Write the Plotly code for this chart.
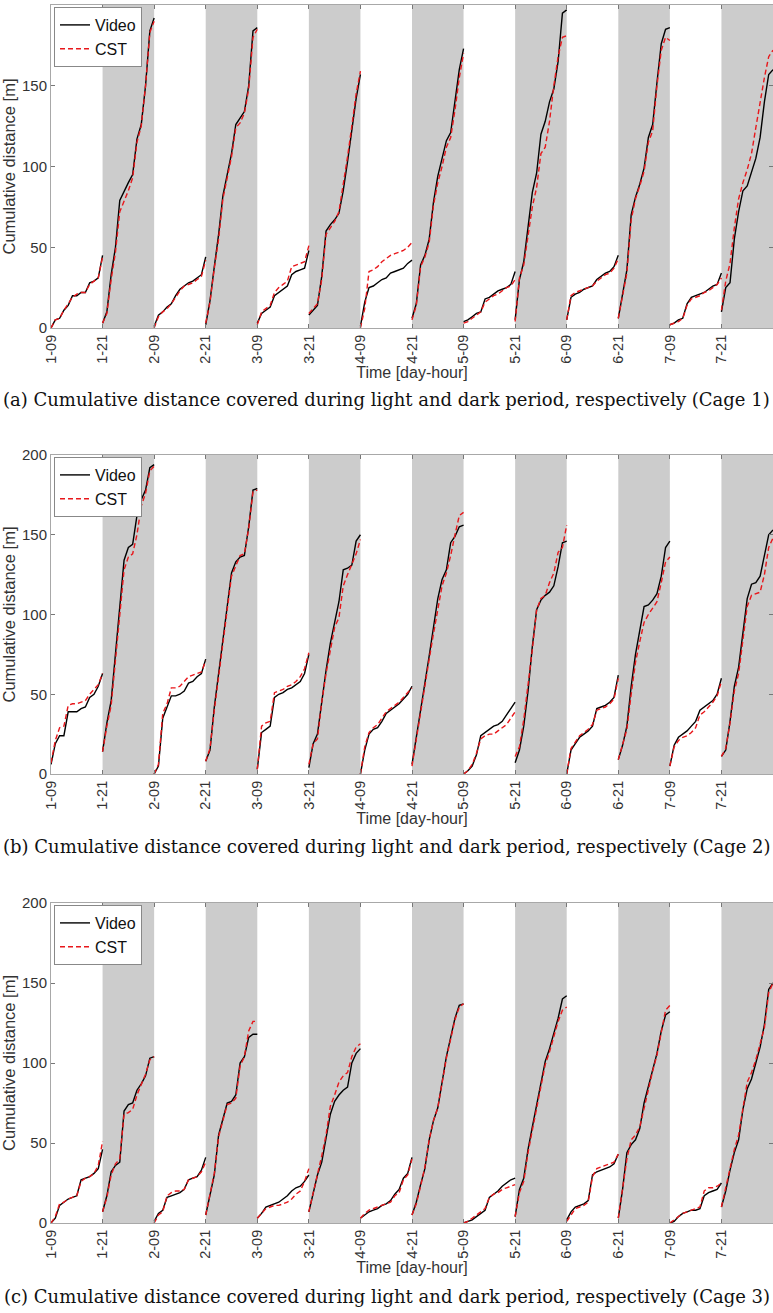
import numpy as np
import plotly.graph_objects as go

W, H = 773, 1313

# x ticks: one every 12 h, light (09-21) and dark (21-09) periods alternate
tick_text = ["1-09", "1-21", "2-09", "2-21", "3-09", "3-21", "4-09",
             "4-21", "5-09", "5-21", "6-09", "6-21", "7-09", "7-21"]
period_hours = 12
y_ticks = [0, 50, 100, 150, 200]

# cumulative distance [m], hourly within each 12 h period (14 periods)
video_c1 = [
    [0, 5, 6, 11, 14, 20, 20, 22, 22, 28, 29, 31, 45],
    [3, 10, 33, 50, 79, 85, 90, 95, 117, 126, 150, 184, 192],
    [1, 8, 10, 13, 15, 20, 24, 26, 28, 29, 31, 33, 44],
    [2, 17, 38, 58, 82, 96, 108, 126, 130, 134, 150, 184, 186],
    [3, 9, 11, 13, 20, 22, 24, 26, 33, 35, 36, 37, 48],
    [8, 11, 14, 32, 60, 64, 67, 71, 85, 103, 122, 142, 157],
    [1, 16, 25, 26, 28, 30, 31, 34, 35, 36, 37, 40, 42],
    [6, 15, 39, 45, 55, 78, 94, 106, 116, 121, 141, 160, 173],
    [4, 5, 7, 9, 10, 18, 19, 21, 23, 24, 25, 27, 35],
    [5, 30, 41, 62, 84, 96, 120, 128, 140, 148, 165, 195, 197],
    [5, 19, 21, 22, 24, 25, 26, 30, 32, 34, 35, 38, 45],
    [6, 20, 36, 70, 81, 89, 99, 118, 126, 152, 176, 185, 186],
    [2, 3, 5, 6, 15, 19, 20, 21, 22, 24, 26, 27, 34],
    [10, 25, 28, 55, 72, 85, 88, 96, 105, 118, 140, 157, 160],
]
cst_c1 = [
    [0, 5, 6, 11, 15, 19, 21, 22, 22, 27, 29, 31, 44],
    [3, 9, 30, 47, 72, 78, 85, 93, 115, 125, 150, 183, 190],
    [0, 7, 10, 12, 15, 19, 23, 26, 27, 28, 30, 32, 42],
    [3, 16, 37, 55, 80, 93, 106, 124, 127, 133, 148, 180, 185],
    [2, 10, 12, 14, 22, 25, 27, 29, 38, 39, 40, 41, 51],
    [9, 12, 15, 30, 58, 62, 66, 72, 88, 106, 125, 145, 159],
    [0, 12, 35, 36, 38, 41, 43, 45, 46, 47, 48, 50, 53],
    [5, 14, 38, 44, 53, 76, 90, 100, 112, 118, 135, 155, 170],
    [3, 4, 6, 8, 10, 16, 18, 20, 21, 23, 25, 26, 30],
    [4, 31, 39, 58, 75, 87, 108, 112, 128, 150, 168, 180, 181],
    [5, 20, 22, 23, 24, 25, 26, 29, 31, 33, 34, 37, 43],
    [6, 19, 34, 67, 80, 88, 97, 115, 122, 150, 172, 180, 178],
    [2, 3, 4, 6, 14, 18, 19, 20, 22, 23, 25, 27, 31],
    [11, 29, 40, 62, 80, 90, 98, 108, 124, 140, 155, 168, 172],
]

video_c2 = [
    [6, 19, 24, 24, 39, 39, 39, 41, 42, 48, 50, 55, 63],
    [14, 32, 46, 75, 103, 134, 142, 144, 162, 172, 178, 192, 194],
    [0, 5, 35, 42, 49, 49, 50, 52, 57, 58, 61, 63, 72],
    [8, 15, 42, 64, 84, 105, 126, 133, 136, 137, 155, 178, 179],
    [3, 26, 28, 30, 48, 50, 51, 53, 54, 56, 58, 63, 75],
    [4, 19, 25, 46, 65, 82, 95, 108, 128, 129, 131, 146, 150],
    [0, 15, 25, 28, 29, 33, 38, 40, 42, 44, 47, 50, 55],
    [6, 23, 38, 57, 74, 92, 110, 122, 128, 145, 149, 155, 156],
    [0, 2, 5, 12, 24, 26, 28, 30, 31, 33, 37, 41, 45],
    [7, 15, 30, 52, 80, 103, 109, 112, 114, 118, 130, 145, 146],
    [0, 15, 19, 23, 25, 27, 30, 41, 42, 43, 45, 48, 62],
    [9, 18, 30, 55, 75, 90, 105, 106, 109, 113, 124, 142, 146],
    [5, 18, 23, 25, 27, 30, 33, 40, 42, 44, 46, 50, 60],
    [11, 15, 33, 55, 67, 87, 110, 119, 120, 124, 136, 150, 153],
]
cst_c2 = [
    [7, 21, 29, 30, 43, 44, 44, 45, 46, 50, 53, 56, 63],
    [14, 30, 43, 70, 98, 128, 136, 138, 150, 168, 176, 190, 193],
    [0, 6, 38, 44, 54, 54, 55, 58, 61, 62, 63, 64, 71],
    [8, 16, 40, 62, 82, 103, 124, 131, 137, 138, 154, 177, 178],
    [3, 30, 32, 33, 51, 52, 53, 55, 56, 58, 61, 66, 76],
    [6, 19, 22, 45, 63, 78, 92, 98, 118, 125, 132, 138, 147],
    [0, 17, 26, 29, 31, 35, 39, 41, 43, 45, 48, 51, 54],
    [5, 22, 40, 58, 72, 88, 104, 118, 126, 137, 150, 162, 164],
    [0, 2, 6, 13, 22, 24, 25, 25, 27, 29, 31, 35, 39],
    [11, 17, 34, 55, 78, 103, 110, 112, 120, 126, 139, 142, 156],
    [0, 16, 20, 24, 26, 28, 31, 40, 41, 42, 44, 47, 60],
    [9, 18, 28, 50, 70, 83, 95, 100, 104, 108, 120, 133, 136],
    [5, 17, 21, 23, 24, 26, 29, 37, 39, 42, 45, 49, 58],
    [11, 16, 32, 52, 63, 84, 105, 112, 113, 114, 125, 142, 148],
]

video_c3 = [
    [0, 3, 11, 13, 15, 16, 17, 27, 28, 29, 31, 34, 46],
    [7, 17, 32, 36, 38, 70, 74, 75, 83, 87, 92, 103, 104],
    [1, 6, 8, 16, 17, 18, 19, 21, 27, 28, 29, 33, 41],
    [5, 18, 30, 55, 65, 75, 76, 80, 100, 104, 116, 118, 118],
    [3, 6, 10, 11, 12, 13, 15, 17, 20, 22, 23, 26, 30],
    [7, 19, 30, 38, 52, 68, 76, 80, 83, 85, 100, 106, 109],
    [3, 5, 7, 8, 9, 11, 12, 14, 18, 21, 28, 31, 41],
    [5, 13, 24, 34, 52, 64, 72, 88, 104, 116, 128, 136, 137],
    [0, 1, 2, 4, 6, 8, 16, 18, 20, 23, 25, 27, 28],
    [4, 21, 28, 46, 60, 73, 88, 101, 109, 119, 128, 140, 142],
    [2, 7, 10, 11, 12, 14, 30, 32, 33, 34, 35, 37, 43],
    [3, 21, 44, 49, 52, 59, 75, 85, 96, 106, 120, 130, 132],
    [0, 1, 4, 6, 7, 8, 8, 9, 17, 19, 20, 21, 25],
    [10, 20, 33, 44, 52, 71, 84, 90, 100, 110, 124, 146, 150],
]
cst_c3 = [
    [0, 4, 12, 13, 15, 16, 17, 26, 28, 29, 31, 36, 51],
    [7, 16, 30, 37, 40, 68, 69, 71, 80, 87, 93, 102, 104],
    [0, 5, 7, 17, 19, 20, 20, 21, 27, 28, 29, 32, 38],
    [5, 19, 31, 54, 64, 74, 75, 78, 98, 104, 120, 126, 126],
    [3, 6, 9, 10, 11, 11, 12, 13, 15, 18, 20, 26, 34],
    [7, 18, 31, 42, 55, 73, 80, 88, 92, 94, 104, 110, 112],
    [3, 6, 8, 9, 10, 11, 12, 13, 17, 19, 27, 30, 40],
    [5, 12, 23, 35, 52, 64, 72, 87, 103, 115, 127, 135, 137],
    [0, 1, 3, 5, 7, 9, 16, 18, 19, 21, 22, 23, 24],
    [4, 19, 26, 44, 58, 72, 86, 99, 107, 116, 126, 133, 135],
    [1, 5, 9, 10, 11, 13, 29, 34, 35, 36, 37, 38, 43],
    [3, 20, 40, 52, 55, 60, 72, 84, 95, 105, 118, 133, 136],
    [0, 2, 4, 6, 7, 8, 9, 10, 20, 22, 22, 23, 25],
    [10, 22, 35, 46, 55, 72, 88, 94, 102, 112, 122, 144, 150],
]

captions = [
    "(a) Cumulative distance covered during light and dark period, respectively (Cage 1)",
    "(b) Cumulative distance covered during light and dark period, respectively (Cage 2)",
    "(c) Cumulative distance covered during light and dark period, respectively (Cage 3)",
]

# pixel layout of the three panels (top, bottom) and caption centres
panels_px = [(5, 328), (455, 774), (903, 1223)]
caption_px = [400, 846, 1296]
left_px = 51


def py(p):
    return 1 - p / H


def join_segments(segs):
    xs, ys = [], []
    for k, seg in enumerate(segs):
        xs += list(period_hours * k + np.linspace(0, period_hours, len(seg))) + [None]
        ys += list(seg) + [None]
    return xs, ys


fig = go.Figure()
grey_axis = "#a8a8a8"
txt = "#333333"
sans = "Liberation Sans, Arial"
n_periods = len(tick_text)
x_end = n_periods * period_hours

cages = [(video_c1, cst_c1), (video_c2, cst_c2), (video_c3, cst_c3)]
for i, (vid, cst) in enumerate(cages):
    n = i + 1
    xa = "x" if n == 1 else f"x{n}"
    ya = "y" if n == 1 else f"y{n}"
    lg = "legend" if n == 1 else f"legend{n}"
    xv, yv = join_segments(vid)
    xc, yc = join_segments(cst)
    fig.add_trace(go.Scatter(x=xv, y=yv, mode="lines", name="Video",
                             line=dict(color="black", width=1.4),
                             xaxis=xa, yaxis=ya, legend=lg))
    fig.add_trace(go.Scatter(x=xc, y=yc, mode="lines", name="CST",
                             line=dict(color="#e8171b", width=1.4, dash="5px,3px"),
                             xaxis=xa, yaxis=ya, legend=lg))

    top, bot = panels_px[i]
    sfx = "" if n == 1 else str(n)
    fig.layout["xaxis" + sfx] = dict(
        domain=[left_px / W, 1], anchor=ya, range=[0, x_end],
        tickvals=[period_hours * k for k in range(n_periods)], ticktext=tick_text,
        tickangle=-90, ticks="inside", ticklen=4, tickcolor="#777",
        showline=True, mirror="ticks", linecolor=grey_axis, linewidth=1,
        showgrid=False, zeroline=False, automargin=False,
        tickfont=dict(family=sans, size=14.5, color=txt),
        title=dict(text="Time [day-hour]", standoff=3,
                   font=dict(family=sans, size=16, color=txt)))
    fig.layout["yaxis" + sfx] = dict(
        domain=[py(bot), py(top)], anchor=xa, range=[0, 200], tickvals=y_ticks,
        ticks="inside", ticklen=4, tickcolor="#777",
        showline=True, mirror="ticks", linecolor=grey_axis, linewidth=1,
        showgrid=False, zeroline=False, automargin=False,
        tickfont=dict(family=sans, size=15, color=txt),
        title=dict(text="Cumulative distance [m]", standoff=4,
                   font=dict(family=sans, size=16.5, color=txt)))
    fig.layout[lg] = dict(
        x=(left_px + 3) / W, y=py(top + 2), xanchor="left", yanchor="top",
        bgcolor="white", bordercolor="#888", borderwidth=1,
        font=dict(family=sans, size=16, color="#111"),
        itemwidth=30, tracegroupgap=0)

    # shade the dark periods (21-09)
    for k in range(1, n_periods, 2):
        fig.add_shape(type="rect", xref=xa, yref=ya + " domain",
                      x0=period_hours * k, x1=period_hours * (k + 1), y0=0, y1=1,
                      fillcolor="#cccccc", line_width=0, layer="below")

    fig.add_annotation(text=captions[i], xref="paper", yref="paper",
                       x=0.5, y=py(caption_px[i]), showarrow=False,
                       xanchor="center", yanchor="middle",
                       font=dict(family="DejaVu Serif", size=18, color="#111"))

fig.update_layout(width=W, height=H, margin=dict(l=0, r=0, t=0, b=0),
                  plot_bgcolor="white", paper_bgcolor="white", showlegend=True)

# the page's default body margin would shift and clip the figure
fig.write_html("out.html", config={"displayModeBar": False},
               post_script="document.body.style.margin='0';"
                           "document.body.style.overflow='hidden';")
